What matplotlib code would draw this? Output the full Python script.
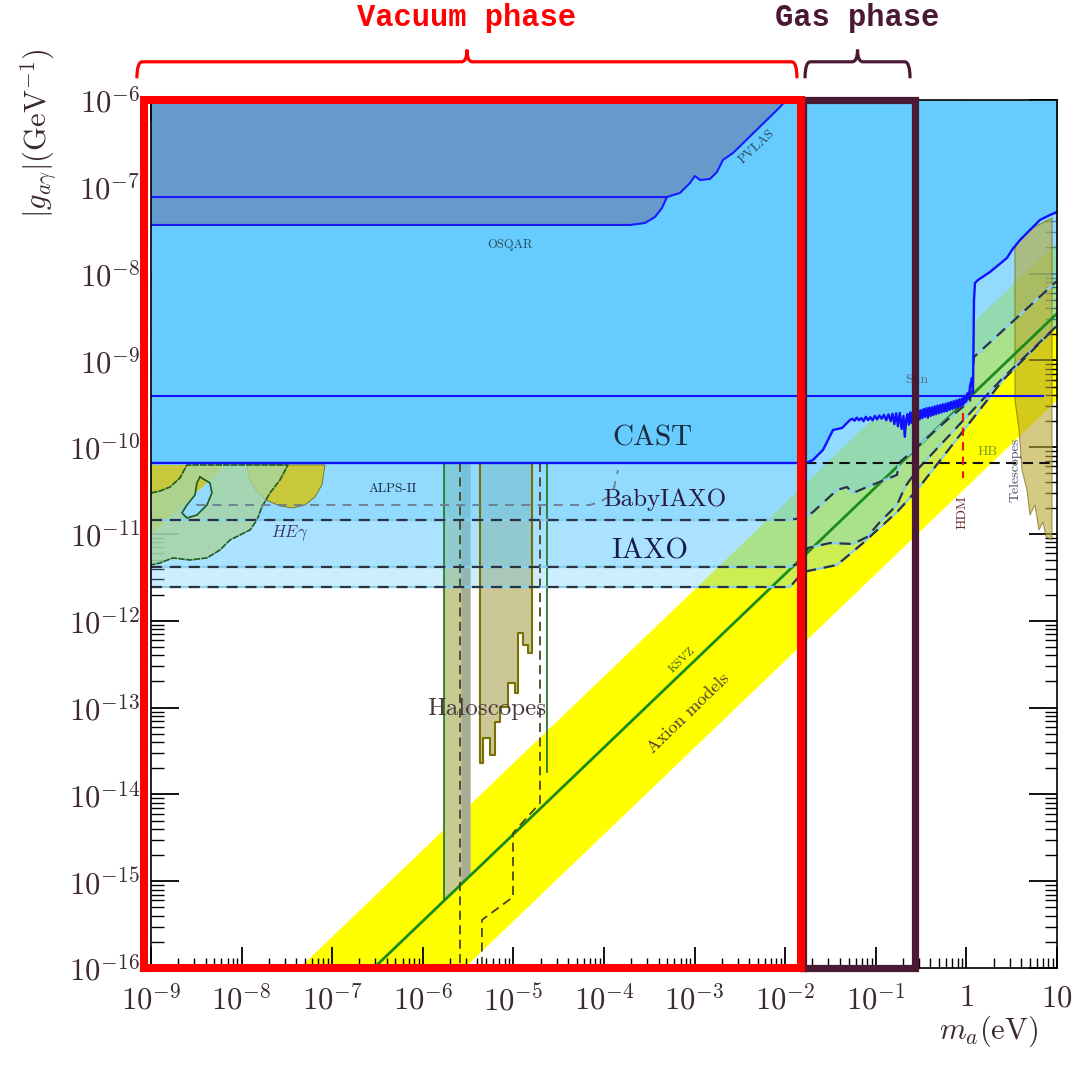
import numpy as np
import matplotlib
matplotlib.use("Agg")
import matplotlib.pyplot as plt
from matplotlib.path import Path
from matplotlib.patches import PathPatch, Polygon

plt.rcParams["mathtext.fontset"] = "cm"
plt.rcParams["font.family"] = ["cmr10", "DejaVu Serif"]
plt.rcParams["axes.formatter.use_mathtext"] = True

# all values are log10(m_a / eV) and log10(|g| / GeV^-1)
ksvz_offset = -9.46
band_upper_offset = -8.63
band_lower_offset = -10.45

osqar_lm = [-9, -3.713, -3.547, -3.437, -3.360, -3.305]
osqar_ly = [-7.440, -7.440, -7.417, -7.348, -7.244, -7.118]
pvlas_lm = [-9, -3.305, -3.161, -3.051, -2.996, -2.940, -2.830, -2.753, -2.687, -2.576, -2.057, -1.991]
pvlas_ly = [-7.118, -7.118, -7.071, -6.956, -6.876, -6.922, -6.910, -6.829, -6.691, -6.611, -6.081, -6.0]

# CAST limit: flat part, noisy gas-phase part, then the wall above ~1 eV
cast_lm = [-9, -1.770, -1.693, -1.583, -1.472, -1.373,
           -1.285, -1.26, -1.235, -1.21, -1.185, -1.16, -1.135, -1.11, -1.085, -1.06,
           -1.035, -1.01, -0.985, -0.96, -0.935, -0.91, -0.885, -0.86, -0.835, -0.815,
           -0.795, -0.775, -0.755, -0.735, -0.715, -0.695, -0.680, -0.665, -0.650, -0.635,
           -0.620, -0.605, -0.590, -0.575, -0.560, -0.545, -0.530, -0.515, -0.500, -0.485,
           -0.470, -0.455, -0.440, -0.425, -0.410, -0.395, -0.380, -0.365, -0.350, -0.335,
           -0.320, -0.305, -0.290, -0.275, -0.260, -0.245, -0.230, -0.215, -0.200, -0.185,
           -0.170, -0.155, -0.140, -0.125, -0.110, -0.095, -0.080, -0.065, -0.050, -0.035,
           -0.020, -0.005, 0.010, 0.025, 0.040, 0.055, 0.062, 0.073,
           0.084, 0.095, 0.128, 0.260, 0.448, 0.503, 0.592, 0.812, 0.923, 1.0]
cast_ly = [-10.182, -10.182, -10.147, -10.032, -9.802, -9.779,
           -9.687, -9.672, -9.695, -9.660, -9.690, -9.665, -9.700, -9.650, -9.688, -9.655,
           -9.690, -9.640, -9.680, -9.635, -9.672, -9.628, -9.690, -9.622, -9.700, -9.615,
           -9.735, -9.610, -9.760, -9.605, -9.790, -9.640, -9.880, -9.690, -9.620, -9.740,
           -9.600, -9.720, -9.590, -9.700, -9.580, -9.690, -9.570, -9.680, -9.575, -9.665,
           -9.560, -9.650, -9.550, -9.660, -9.545, -9.640, -9.540, -9.630, -9.530, -9.620,
           -9.520, -9.610, -9.515, -9.600, -9.505, -9.590, -9.500, -9.585, -9.490, -9.570,
           -9.480, -9.560, -9.470, -9.550, -9.460, -9.540, -9.450, -9.530, -9.440, -9.510,
           -9.410, -9.480, -9.380, -9.440, -9.300, -9.230, -9.203, -9.376,
           -8.304, -8.108, -8.074, -7.982, -7.820, -7.728, -7.613, -7.382, -7.325, -7.290]
sun_ly = -9.407
sun_lm_end = 0.845

baby_lm = [-9, -1.947, -1.781, -1.693, -1.428, -1.318, -1.252, -1.097, -0.766, -0.744, -0.545, -0.214, 0.040, 0.084, 1.0]
baby_ly = [-10.839, -10.839, -10.804, -10.747, -10.493, -10.459, -10.528, -10.459, -10.320, -10.182, -9.998, -9.687, -9.468, -8.961, -8.085]
iaxo_lm = [-9, -1.947, -1.837, -1.748, -1.506, -1.252, -1.097, -0.954, -0.766, -0.678, -0.545, 0.404, 1.0]
iaxo_ly = [-11.380, -11.380, -11.334, -11.161, -11.104, -11.115, -11.035, -10.862, -10.666, -10.459, -10.263, -9.20, -8.60]
iaxop_lm = [-9, -1.947, -1.804, -1.428, -1.141, -0.766, -0.545, 0.404, 1.0]
iaxop_ly = [-11.611, -11.611, -11.438, -11.357, -11.104, -10.747, -10.493, -9.226, -8.60]
alps_lm = [-8.5, -4.155, -4.044, -3.956, -3.890, -3.845]
alps_ly = [-10.666, -10.666, -10.631, -10.574, -10.470, -10.263]

# haloscopes
halo_col_lm = [-5.766, -5.479]
halo_strip_lm = [-5.578, -5.479]
halo_step_lm = [-5.369, -5.369, -5.332, -5.332, -5.258, -5.258, -5.203, -5.203, -5.148, -5.148, -5.056,
                -5.056, -4.982, -4.982, -4.946, -4.946, -4.897, -4.897, -4.836, -4.836, -4.798, -4.798]
halo_step_ly = [-10.18, -13.642, -13.642, -13.354, -13.354, -13.546, -13.546, -13.162, -13.162, -12.990, -12.990,
                -12.720, -12.720, -12.835, -12.835, -12.137, -12.137, -12.279, -12.279, -12.374, -12.374, -10.18]
halo_line_lm, halo_line_ly = -4.629, [-10.182, -13.742]
halo_dash1_lm, halo_dash1_ly = -5.589, [-10.182, -16.0]
halo_dash2_lm = [-4.706, -4.706, -5.004, -5.004, -5.347, -5.347]
halo_dash2_ly = [-10.182, -14.100, -14.445, -15.182, -15.447, -16.0]

# HE gamma region (outer edge) and its hole
heg_lm = [-9.0, -8.901, -8.790, -8.680, -8.603, -7.488, -7.576, -7.687, -7.775, -7.830, -7.907, -8.018,
          -8.128, -8.238, -8.382, -8.570, -8.757, -8.901, -9.0]
heg_ly = [-10.528, -10.505, -10.459, -10.355, -10.205, -10.205, -10.378, -10.528, -10.689, -10.839, -10.954,
          -11.012, -11.069, -11.184, -11.276, -11.300, -11.276, -11.334, -11.357]
heg_hole_lm = [-8.459, -8.349, -8.327, -8.382, -8.492, -8.603, -8.658, -8.603, -8.514, -8.492]
heg_hole_ly = [-10.343, -10.412, -10.528, -10.666, -10.781, -10.816, -10.758, -10.666, -10.551, -10.412]
olive_tri_lm = [-9.0, -8.172, -9.0]
olive_tri_ly = [-10.205, -10.205, -11.012]
olive_blob_lm = [-7.940, -7.918, -7.841, -7.731, -7.576, -7.433, -7.300, -7.190, -7.113, -7.079]
olive_blob_ly = [-10.205, -10.355, -10.493, -10.608, -10.677, -10.700, -10.666, -10.574, -10.435, -10.205]

# right side
hb_lm, hb_ly = [-1.770, 1.0], -10.182
hdm_lm, hdm_ly = -0.040, [-9.606, -10.355]
tel_lm = [0.536, 0.945, 0.945, 0.879, 0.845, 0.801, 0.757, 0.702, 0.669, 0.614, 0.581, 0.536]
tel_ly = [-7.578, -7.359, -11.069, -11.035, -10.862, -10.954, -10.666, -10.781, -10.493, -10.263, -9.802, -9.456]

vacuum_lm = [-9.077, -1.826]
gas_lm = [-1.80, -0.567]

x_ticks = [1e-9, 1e-8, 1e-7, 1e-6, 1e-5, 1e-4, 1e-3, 1e-2, 1e-1, 1, 10]
x_labels = [r"$10^{-9}$", r"$10^{-8}$", r"$10^{-7}$", r"$10^{-6}$", r"$10^{-5}$", r"$10^{-4}$",
            r"$10^{-3}$", r"$10^{-2}$", r"$10^{-1}$", r"$1$", r"$10$"]
y_ticks = [10.0 ** e for e in range(-16, -5)]
y_labels = [r"$10^{%d}$" % e for e in range(-16, -5)]


def P(a):
    return 10.0 ** np.asarray(a, dtype=float)


fig = plt.figure(figsize=(10.79, 10.67), dpi=100)
ax = fig.add_axes([0.1399, 0.0928, 0.8397, 0.8135])
ax.set_xscale("log")
ax.set_yscale("log")
ax.set_xlim(1e-9, 10)
ax.set_ylim(1e-16, 1e-6)
TOP = 1e-6

# axion band
lm = np.array([-9.0, 1.0])
ax.fill_between(P(lm), P(lm + band_lower_offset), P(lm + band_upper_offset), color="#ffff00", lw=0, zorder=1)

# haloscopes (under the IAXO shading)
col = np.array(halo_col_lm)
ax.fill_between(P(col), P(col + ksvz_offset), TOP, color="#c6cb92", lw=0, zorder=1.5)
strip = np.array(halo_strip_lm)
ax.fill_between(P(strip), P(strip + ksvz_offset), TOP, color="#a6ad94", lw=0, zorder=1.6)
ax.add_patch(Polygon(np.column_stack([P(halo_step_lm), P(halo_step_ly)]), closed=True,
                     facecolor="#cbc797", edgecolor="none", zorder=1.5))

# IAXO family shading
for lmv, lyv in [(baby_lm, baby_ly), (iaxo_lm, iaxo_ly), (iaxop_lm, iaxop_ly)]:
    ax.fill_between(P(lmv), P(lyv), TOP, color="#66ccff", alpha=0.33, lw=0, zorder=2)

# telescopes
ax.add_patch(Polygon(np.column_stack([P(tel_lm), P(tel_ly)]), closed=True,
                     facecolor="#b8a830", alpha=0.6, edgecolor="#6a6000", lw=0.8, zorder=2.5))

# HE gamma
ax.add_patch(Polygon(np.column_stack([P(olive_tri_lm), P(olive_tri_ly)]), closed=True,
                     facecolor="#c8c83c", edgecolor="none", zorder=2.6))
ax.add_patch(Polygon(np.column_stack([P(olive_blob_lm), P(olive_blob_ly)]), closed=True,
                     facecolor="#c8c83c", edgecolor="#6a6a20", lw=0.6, zorder=2.6))
outer = list(zip(P(heg_lm), P(heg_ly)))
hole = list(zip(P(heg_hole_lm), P(heg_hole_ly)))[::-1]
verts = outer + [outer[0]] + hole + [hole[0]]
codes = ([Path.MOVETO] + [Path.LINETO] * (len(outer) - 1) + [Path.CLOSEPOLY]
         + [Path.MOVETO] + [Path.LINETO] * (len(hole) - 1) + [Path.CLOSEPOLY])
ax.add_patch(PathPatch(Path(verts, codes), facecolor="#a8d4a0", alpha=0.8, edgecolor="none", zorder=2.7))
ax.plot(P(heg_lm), P(heg_ly), color="#1f5a1f", lw=1.2, ls=(0, (4, 0.6)), zorder=2.8)
ax.plot(P(heg_hole_lm + heg_hole_lm[:1]), P(heg_hole_ly + heg_hole_ly[:1]), color="#1f5a1f", lw=1.2, zorder=2.8)

# lines under CAST
ax.plot(P(lm), P(lm + ksvz_offset), color="#1a8c1a", lw=2, zorder=3.2)
ax.plot([P(halo_col_lm[0])] * 2, [P(halo_col_lm[0] + ksvz_offset), TOP], color="#2a7a2a", lw=1.3, zorder=3.2)
ax.plot(P(halo_step_lm), P(halo_step_ly), color="#7a7000", lw=1.5, zorder=3.2)
ax.plot([P(halo_line_lm)] * 2, P(halo_line_ly), color="#2a7a2a", lw=1.3, zorder=3.2)
ax.plot([P(halo_dash1_lm)] * 2, P(halo_dash1_ly), color="#4a4520", lw=1.3, ls=(0, (5, 3)), zorder=3.2)
ax.plot(P(halo_dash2_lm), P(halo_dash2_ly), color="#4a4520", lw=1.3, ls=(0, (5, 3)), zorder=3.2)
for lmv, lyv in [(baby_lm, baby_ly), (iaxo_lm, iaxo_ly), (iaxop_lm, iaxop_ly)]:
    ax.plot(P(lmv), P(lyv), color="#88d0f0", lw=1.6, zorder=3.3)
    ax.plot(P(lmv), P(lyv), color="#2a3440", lw=1.6, ls=(0, (5, 3.5)), zorder=3.4)
ax.plot(P(alps_lm), P(alps_ly), color="#6a7e8e", lw=1.3, ls=(0, (5, 4)), zorder=3.3)
ax.plot(P(hb_lm), [P(hb_ly)] * 2, color="#111111", lw=1.5, ls=(0, (5, 3)), zorder=3.5)
ax.plot([P(hdm_lm)] * 2, P(hdm_ly), color="#ee1111", lw=1.5, ls=(0, (4, 3)), zorder=3.5)

# CAST and PVLAS/OSQAR
ax.fill_between(P(cast_lm), P(cast_ly), TOP, color="#66ccff", lw=0, zorder=4)
dark_lm = osqar_lm + pvlas_lm[2:]
dark_ly = osqar_ly + pvlas_ly[2:]
ax.fill_between(P(dark_lm), P(dark_ly), TOP, color="#6699cc", lw=0, zorder=4.5)
ax.plot(P(cast_lm), P(cast_ly), color="#1010ff", lw=1.7, zorder=5)
ax.plot(P([-9, sun_lm_end]), [P(sun_ly)] * 2, color="#1010ff", lw=1.5, zorder=5)
ax.plot(P(osqar_lm), P(osqar_ly), color="#1a1aff", lw=1.5, zorder=5)
ax.plot(P(pvlas_lm), P(pvlas_ly), color="#1a1aff", lw=1.5, zorder=5)


# labels
def lab(lmx, lyy, s, size, color, rot=0, **kw):
    ax.text(P(lmx), P(lyy), s, fontsize=size, color=color, rotation=rot,
            ha="center", va="center", rotation_mode="anchor", zorder=7, **kw)


lab(-5.037, -7.671, "OSQAR", 9, "#2a4a5a")
lab(-2.311, -6.541, "PVLAS", 9.5, "#2a4a5a", rot=43)
lab(-3.470, -9.894, "CAST", 21, "#1a2a40")
lab(-6.329, -10.482, "ALPS-II", 9.5, "#1a2a40")
lab(-3.327, -10.608, "BabyIAXO", 18, "#2a1a40")
lab(-3.492, -11.196, "IAXO", 21, "#1a1a50")
lab(-7.466, -10.988, r"$HE\gamma$", 12, "#3a3a70")
lab(-5.291, -13.016, "Haloscopes", 18, "#4a3a40")
lab(-3.139, -12.452, "KSVZ", 8.5, "#3a5a1a", rot=44)
lab(-3.073, -13.062, "Axion models", 13, "#4a3a30", rot=44)
lab(-0.545, -9.226, "Sun", 10, "#5a6a7a")
lab(0.238, -10.055, "HB", 10, "#7a9a20")
lab(-0.038, -10.747, "HDM", 10, "#6a2a2a", rot=90)
lab(0.536, -10.263, "Telescopes", 10, "#4a4a6a", rot=90)

# axes styling
ax.set_xticks(x_ticks, x_labels)
ax.set_yticks(y_ticks, y_labels)
ax.xaxis.set_minor_locator(matplotlib.ticker.LogLocator(base=10, subs=np.arange(2, 10), numticks=100))
ax.yaxis.set_minor_locator(matplotlib.ticker.LogLocator(base=10, subs=np.arange(2, 10), numticks=100))
ax.xaxis.set_minor_formatter(matplotlib.ticker.NullFormatter())
ax.yaxis.set_minor_formatter(matplotlib.ticker.NullFormatter())
ax.tick_params(which="both", direction="in", top=True, right=True, colors="black", labelcolor="#3d2b2b")
ax.tick_params(axis="x", which="major", length=15, width=1.3, labelsize=22, pad=12)
ax.tick_params(axis="x", which="minor", length=7, width=1.0)
ax.tick_params(axis="y", which="major", length=20, width=1.3, labelsize=22, pad=8)
ax.tick_params(axis="y", which="minor", length=9, width=1.0)
for s in ax.spines.values():
    s.set_linewidth(1.2)
    s.set_zorder(6)
ax.set_ylabel(r"$|g_{a\gamma}|(\mathrm{GeV}^{-1})$", fontsize=22, color="#3d2b2b")
ax.yaxis.set_label_coords(-0.10, 0.962)
ax.set_xlabel(r"$m_a(\mathrm{eV})$", fontsize=22, color="#3d2b2b")
ax.xaxis.set_label_coords(0.925, -0.052)

# phase boxes and braces
for rng, c, lw in [(gas_lm, "#4a1a35", 5.2), (vacuum_lm, "#ff0000", 5.8)]:
    x0, x1 = P(rng)
    ax.plot([x0, x1, x1, x0, x0], [1e-16, 1e-16, 1e-6, 1e-6, 1e-16], color=c, lw=lw,
            solid_joinstyle="miter", clip_on=False, zorder=10)


def brace(lm0, lm1, color):
    x0, x1 = (lm0 + 9) / 10, (lm1 + 9) / 10
    xm = 0.5 * (x0 + x1)
    yb, yh, yc, r = 1.025, 1.044, 1.058, 0.006
    v = [(x0, yb), (x0, yh), (x0 + r, yh), (xm - r, yh), (xm, yh), (xm, yc),
         (xm, yh), (xm + r, yh), (x1 - r, yh), (x1, yh), (x1, yb)]
    c = [Path.MOVETO, Path.CURVE3, Path.CURVE3, Path.LINETO, Path.CURVE3, Path.CURVE3,
         Path.CURVE3, Path.CURVE3, Path.LINETO, Path.CURVE3, Path.CURVE3]
    ax.add_patch(PathPatch(Path(v, c), facecolor="none", edgecolor=color, lw=2.3,
                           transform=ax.transAxes, clip_on=False))
    return xm


xm = brace(-9.155, -1.870, "#ff0000")
ax.text(xm, 1.094, "Vacuum phase", transform=ax.transAxes, ha="center", va="center",
        fontsize=22, fontweight="bold", family="Liberation Mono", color="#ff0000")
xm = brace(-1.781, -0.622, "#4a1a35")
ax.text(xm, 1.094, "Gas phase", transform=ax.transAxes, ha="center", va="center",
        fontsize=22, fontweight="bold", family="Liberation Mono", color="#4a1a35")

fig.savefig("out.png", dpi=100)
